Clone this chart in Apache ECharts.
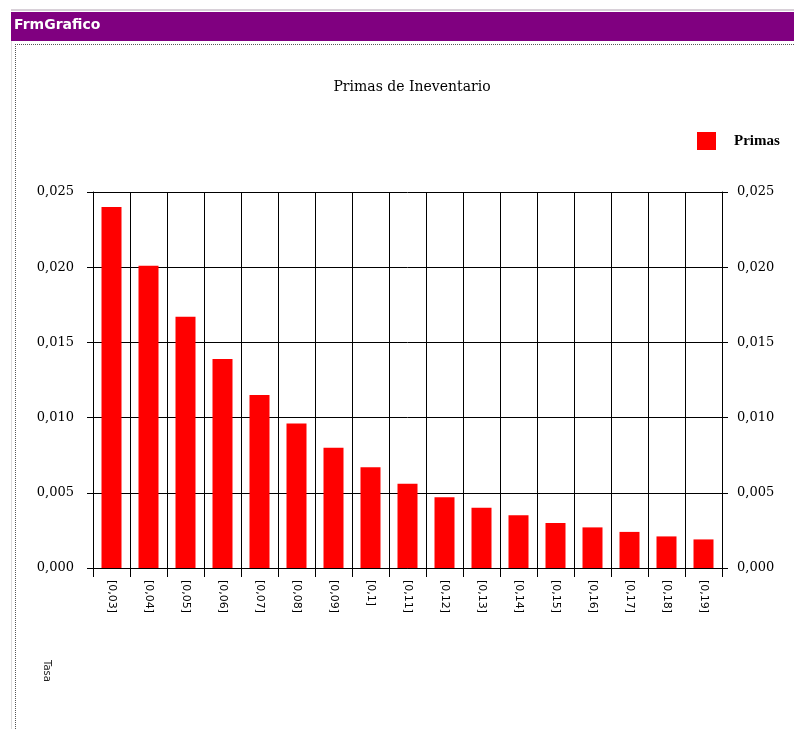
<!DOCTYPE html>
<html>
<head>
<meta charset="utf-8">
<style>
html,body{margin:0;padding:0;background:#fff;}
#c{width:794px;height:729px;}
</style>
<script src="https://cdn.jsdelivr.net/npm/echarts@6/dist/echarts.min.js"></script>
</head>
<body>
<div id="c"></div>
<script>
var windowTitle = "FrmGrafico";
var chartTitle = "Primas de Ineventario";
var seriesName = "Primas";
var axisNote = "Tasa";
var categories = ["[0,03]","[0,04]","[0,05]","[0,06]","[0,07]","[0,08]","[0,09]","[0,1]","[0,11]","[0,12]","[0,13]","[0,14]","[0,15]","[0,16]","[0,17]","[0,18]","[0,19]"];
var primas = [0.0240,0.0201,0.0167,0.0139,0.0115,0.0096,0.0080,0.0067,0.0056,0.0047,0.0040,0.0035,0.0030,0.0027,0.0024,0.0021,0.0019];
var yTicks = [0, 0.005, 0.010, 0.015, 0.020, 0.025];

var chart = echarts.init(document.getElementById('c'), null, {renderer:'canvas'});
var serif = '"DejaVu Serif","Liberation Serif",serif';
function fmt(v){ return v.toFixed(3).replace('.', ','); }
var yAxisCommon = {
  type:'value', min:yTicks[0], max:yTicks[yTicks.length-1], interval:0.005,
  axisLine:{show:true, lineStyle:{color:'#000', width:1}},
  axisTick:{show:true, length:6, lineStyle:{color:'#000'}},
  axisLabel:{formatter:fmt, color:'#000', fontFamily:serif, fontSize:13},
  splitLine:{show:false}
};
chart.setOption({
  animation:false,
  backgroundColor:'#fff',
  title:{text:chartTitle, left:407, textAlign:'center', top:75, textStyle:{fontFamily:serif, fontSize:14, fontWeight:'normal', color:'#000'}},
  legend:{data:[seriesName], left:697, top:132, padding:0, itemWidth:19, itemHeight:18, icon:'rect',
    textStyle:{fontFamily:'"Liberation Serif",serif', fontSize:15, fontWeight:'bold', color:'#000', padding:[0,0,0,13]}},
  grid:{left:93, right:72, top:192, bottom:161, containLabel:false},
  xAxis:{type:'category', data:categories, boundaryGap:true,
    axisLine:{show:true, lineStyle:{color:'#000', width:1}},
    axisTick:{show:true, length:9, interval:0, lineStyle:{color:'#000'}},
    axisLabel:{rotate:-90, interval:0, color:'#000', fontFamily:'"DejaVu Sans",sans-serif', fontSize:11, margin:12},
    splitLine:{show:true, interval:0, lineStyle:{color:'#000', width:1}}
  },
  yAxis:[
    Object.assign({}, yAxisCommon, {position:'left', axisLabel:Object.assign({}, yAxisCommon.axisLabel, {margin:19}), splitLine:{show:true, lineStyle:{color:'#000', width:1}}}),
    Object.assign({}, yAxisCommon, {position:'right', axisLabel:Object.assign({}, yAxisCommon.axisLabel, {margin:15})})
  ],
  series:[{name:seriesName, type:'bar', data:primas, barWidth:20, itemStyle:{color:'#ff0000'}}],
  graphic:[
    {type:'rect', shape:{x:11,y:9,width:783,height:2}, style:{fill:'#d8d0d8'}},
    {type:'rect', shape:{x:11,y:12,width:783,height:29}, style:{fill:'#800080'}},
    {type:'text', left:14, top:18, style:{text:windowTitle, fill:'#fff', font:'bold 14px "DejaVu Sans",sans-serif'}},
    {type:'line', shape:{x1:15,y1:44.5,x2:794,y2:44.5}, style:{stroke:'#555', lineDash:[1,1], lineWidth:1}},
    {type:'line', shape:{x1:15.5,y1:44,x2:15.5,y2:729}, style:{stroke:'#555', lineDash:[1,1], lineWidth:1}},
    {type:'line', shape:{x1:11.5,y1:41,x2:11.5,y2:729}, style:{stroke:'#ddd', lineWidth:1}},
    {type:'text', x:52, y:660, rotation:-Math.PI/2, style:{text:axisNote, fill:'#222', font:'10px "DejaVu Sans",sans-serif'}}
  ]
});
</script>
</body>
</html>
